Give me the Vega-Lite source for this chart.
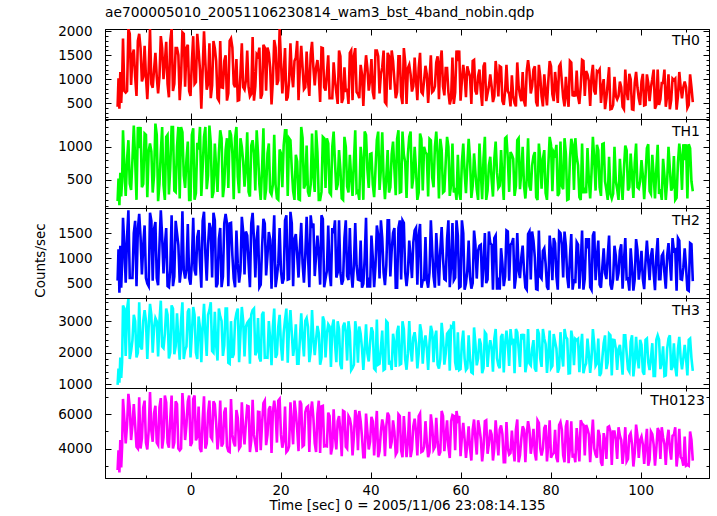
{
"$schema": "https://vega.github.io/schema/vega-lite/v6.json",
"padding": {"left": 33, "top": 5, "right": 5, "bottom": 2},
"background": "white",
"config": {
  "view": {"stroke": "black", "strokeWidth": 1},
  "font": "DejaVu Sans",
  "axis": {"grid": false, "zindex": 2, "domainColor": "black", "tickColor": "black", "labelColor": "black", "titleColor": "black", "labelFont": "DejaVu Sans", "labelFontSize": 13.5, "titleFont": "DejaVu Sans", "titleFontSize": 13.5, "titleFontWeight": "normal", "labelOverlap": false, "tickWidth": 1, "domainWidth": 1, "format": "d", "tickSize": -6},
  "title": {"font": "DejaVu Sans", "fontSize": 13.8, "fontWeight": "normal", "color": "black"}
},
"datasets": {"lc": [
{"t":-16.2,"TH0":420,"TH1":180,"TH2":560,"TH3":980,"TH0123":2750},
{"t":-16.0,"TH0":1020,"TH1":520,"TH2":1180,"TH3":1500,"TH0123":3900},
{"t":-15.8,"TH0":380,"TH1":120,"TH2":320,"TH3":1050,"TH0123":2600},
{"t":-15.6,"TH0":1150,"TH1":610,"TH2":1250,"TH3":1850,"TH0123":4500},
{"t":-15.4,"TH0":500,"TH1":250,"TH2":420,"TH3":1200,"TH0123":2900},
{"t":-15.2,"TH0":950,"TH1":480,"TH2":900,"TH3":1700,"TH0123":4100},
{"t":-15.0,"TH0":1850,"TH1":1250,"TH2":1800,"TH3":3500,"TH0123":6900},
{"t":-14.4,"TH0":720,"TH1":260,"TH2":520,"TH3":1900,"TH0123":4300},
{"t":-13.8,"TH0":2050,"TH1":1100,"TH2":1950,"TH3":3700,"TH0123":7200},
{"t":-13.2,"TH0":880,"TH1":350,"TH2":610,"TH3":2050,"TH0123":4500},
{"t":-12.6,"TH0":1620,"TH1":1320,"TH2":1500,"TH3":3200,"TH0123":6600},
{"t":-12.0,"TH0":650,"TH1":200,"TH2":450,"TH3":1850,"TH0123":4100},
{"t":-11.4,"TH0":1950,"TH1":980,"TH2":1880,"TH3":3600,"TH0123":7000},
{"t":-10.8,"TH0":950,"TH1":390,"TH2":680,"TH3":2100,"TH0123":4600},
{"t":-10.2,"TH0":1700,"TH1":1200,"TH2":1650,"TH3":3350,"TH0123":6800},
{"t":-9.6,"TH0":580,"TH1":240,"TH2":500,"TH3":1800,"TH0123":3950},
{"t":-9.0,"TH0":2050,"TH1":1050,"TH2":1900,"TH3":3550,"TH0123":7300},
{"t":-8.4,"TH0":820,"TH1":310,"TH2":560,"TH3":2000,"TH0123":4400},
{"t":-7.8,"TH0":1550,"TH1":1350,"TH2":1720,"TH3":3100,"TH0123":6500},
{"t":-7.2,"TH0":700,"TH1":180,"TH2":470,"TH3":1880,"TH0123":4200},
{"t":-6.6,"TH0":1900,"TH1":920,"TH2":1950,"TH3":3650,"TH0123":6950},
{"t":-6.0,"TH0":1000,"TH1":420,"TH2":700,"TH3":2150,"TH0123":4650},
{"t":-5.4,"TH0":1780,"TH1":1150,"TH2":1600,"TH3":3400,"TH0123":6700},
{"t":-4.8,"TH0":620,"TH1":280,"TH2":430,"TH3":1820,"TH0123":4050},
{"t":-4.2,"TH0":2050,"TH1":1300,"TH2":1850,"TH3":3500,"TH0123":7100},
{"t":-3.6,"TH0":900,"TH1":340,"TH2":640,"TH3":1950,"TH0123":4350},
{"t":-3.0,"TH0":1650,"TH1":1000,"TH2":1500,"TH3":3250,"TH0123":6600},
{"t":-2.4,"TH0":560,"TH1":220,"TH2":520,"TH3":1780,"TH0123":3900},
{"t":-1.8,"TH0":1980,"TH1":1220,"TH2":1930,"TH3":3600,"TH0123":7250},
{"t":-1.2,"TH0":840,"TH1":380,"TH2":600,"TH3":2080,"TH0123":4500},
{"t":-0.6,"TH0":1720,"TH1":1080,"TH2":1680,"TH3":3300,"TH0123":6750},
{"t":0.0,"TH0":650,"TH1":200,"TH2":480,"TH3":1850,"TH0123":4150},
{"t":0.6,"TH0":1900,"TH1":1280,"TH2":1800,"TH3":3450,"TH0123":6900},
{"t":1.2,"TH0":940,"TH1":300,"TH2":660,"TH3":2000,"TH0123":4480},
{"t":1.8,"TH0":1600,"TH1":960,"TH2":1560,"TH3":3150,"TH0123":6450},
{"t":2.4,"TH0":380,"TH1":260,"TH2":420,"TH3":1700,"TH0123":3800},
{"t":3.0,"TH0":2000,"TH1":1150,"TH2":1920,"TH3":3550,"TH0123":7050},
{"t":3.6,"TH0":780,"TH1":360,"TH2":560,"TH3":1900,"TH0123":4300},
{"t":4.2,"TH0":1750,"TH1":1320,"TH2":1700,"TH3":3350,"TH0123":6800},
{"t":4.8,"TH0":870,"TH1":230,"TH2":620,"TH3":2050,"TH0123":4550},
{"t":5.4,"TH0":1650,"TH1":1050,"TH2":1750,"TH3":3300,"TH0123":6600},
{"t":6.0,"TH0":600,"TH1":320,"TH2":500,"TH3":1750,"TH0123":3950},
{"t":6.6,"TH0":1800,"TH1":1250,"TH2":1600,"TH3":3150,"TH0123":6800},
{"t":7.2,"TH0":820,"TH1":240,"TH2":640,"TH3":1900,"TH0123":4300},
{"t":7.8,"TH0":1500,"TH1":950,"TH2":1880,"TH3":3400,"TH0123":6400},
{"t":8.4,"TH0":700,"TH1":380,"TH2":450,"TH3":1680,"TH0123":3850},
{"t":9.0,"TH0":1850,"TH1":1180,"TH2":1700,"TH3":3000,"TH0123":6900},
{"t":9.6,"TH0":900,"TH1":210,"TH2":600,"TH3":1950,"TH0123":4350},
{"t":10.2,"TH0":1420,"TH1":1300,"TH2":1550,"TH3":3250,"TH0123":6250},
{"t":10.8,"TH0":560,"TH1":300,"TH2":520,"TH3":1700,"TH0123":4000},
{"t":11.4,"TH0":1750,"TH1":1000,"TH2":1820,"TH3":3450,"TH0123":6700},
{"t":12.0,"TH0":780,"TH1":400,"TH2":680,"TH3":1880,"TH0123":4250},
{"t":12.6,"TH0":1600,"TH1":1220,"TH2":1450,"TH3":2950,"TH0123":6500},
{"t":13.2,"TH0":640,"TH1":250,"TH2":430,"TH3":1650,"TH0123":3800},
{"t":13.8,"TH0":1880,"TH1":1100,"TH2":1900,"TH3":3350,"TH0123":6850},
{"t":14.4,"TH0":850,"TH1":340,"TH2":620,"TH3":1920,"TH0123":4300},
{"t":15.0,"TH0":1480,"TH1":900,"TH2":1650,"TH3":3100,"TH0123":6150},
{"t":15.6,"TH0":590,"TH1":200,"TH2":480,"TH3":1720,"TH0123":3900},
{"t":16.2,"TH0":1720,"TH1":1280,"TH2":1780,"TH3":3300,"TH0123":6650},
{"t":16.8,"TH0":760,"TH1":360,"TH2":660,"TH3":1850,"TH0123":4200},
{"t":17.4,"TH0":1550,"TH1":1050,"TH2":1520,"TH3":3000,"TH0123":6300},
{"t":18.0,"TH0":470,"TH1":280,"TH2":400,"TH3":1600,"TH0123":3750},
{"t":18.6,"TH0":1820,"TH1":1180,"TH2":1850,"TH3":3400,"TH0123":6800},
{"t":19.2,"TH0":880,"TH1":220,"TH2":640,"TH3":1950,"TH0123":4350},
{"t":19.8,"TH0":2050,"TH1":960,"TH2":1600,"TH3":3200,"TH0123":6900},
{"t":20.4,"TH0":700,"TH1":390,"TH2":500,"TH3":1750,"TH0123":4050},
{"t":21.0,"TH0":1650,"TH1":1250,"TH2":1750,"TH3":3050,"TH0123":6450},
{"t":21.6,"TH0":620,"TH1":260,"TH2":580,"TH3":1680,"TH0123":3900},
{"t":22.2,"TH0":1750,"TH1":1100,"TH2":1920,"TH3":3350,"TH0123":6700},
{"t":22.8,"TH0":830,"TH1":330,"TH2":450,"TH3":1900,"TH0123":4250},
{"t":23.4,"TH0":1450,"TH1":880,"TH2":1480,"TH3":2900,"TH0123":6100},
{"t":24.0,"TH0":560,"TH1":210,"TH2":620,"TH3":1650,"TH0123":3850},
{"t":24.6,"TH0":1700,"TH1":1300,"TH2":1700,"TH3":3250,"TH0123":6600},
{"t":25.2,"TH0":790,"TH1":370,"TH2":520,"TH3":1880,"TH0123":4200},
{"t":25.8,"TH0":1580,"TH1":1020,"TH2":1820,"TH3":3100,"TH0123":6400},
{"t":26.4,"TH0":650,"TH1":250,"TH2":430,"TH3":1700,"TH0123":3800},
{"t":27.0,"TH0":1780,"TH1":1200,"TH2":1600,"TH3":3350,"TH0123":6750},
{"t":27.6,"TH0":870,"TH1":320,"TH2":650,"TH3":1920,"TH0123":4300},
{"t":28.2,"TH0":1400,"TH1":920,"TH2":1450,"TH3":2850,"TH0123":6050},
{"t":28.8,"TH0":520,"TH1":200,"TH2":480,"TH3":1620,"TH0123":3750},
{"t":29.4,"TH0":1650,"TH1":1150,"TH2":1780,"TH3":3150,"TH0123":6500},
{"t":30.0,"TH0":760,"TH1":380,"TH2":600,"TH3":1850,"TH0123":4150},
{"t":30.6,"TH0":1500,"TH1":1050,"TH2":1650,"TH3":2900,"TH0123":6100},
{"t":31.2,"TH0":600,"TH1":280,"TH2":450,"TH3":1550,"TH0123":3650},
{"t":31.8,"TH0":1350,"TH1":1230,"TH2":1500,"TH3":3050,"TH0123":6300},
{"t":32.4,"TH0":720,"TH1":350,"TH2":620,"TH3":1700,"TH0123":3950},
{"t":33.0,"TH0":1600,"TH1":950,"TH2":1750,"TH3":2750,"TH0123":5900},
{"t":33.6,"TH0":500,"TH1":220,"TH2":480,"TH3":1480,"TH0123":3550},
{"t":34.2,"TH0":1250,"TH1":1150,"TH2":1400,"TH3":2950,"TH0123":6150},
{"t":34.8,"TH0":800,"TH1":400,"TH2":650,"TH3":1750,"TH0123":4000},
{"t":35.4,"TH0":1550,"TH1":880,"TH2":1600,"TH3":2650,"TH0123":5750},
{"t":36.0,"TH0":560,"TH1":260,"TH2":420,"TH3":1520,"TH0123":3600},
{"t":36.6,"TH0":1650,"TH1":1250,"TH2":1700,"TH3":3000,"TH0123":6250},
{"t":37.2,"TH0":690,"TH1":330,"TH2":580,"TH3":1680,"TH0123":3900},
{"t":37.8,"TH0":1300,"TH1":1000,"TH2":1350,"TH3":2600,"TH0123":5600},
{"t":38.4,"TH0":440,"TH1":200,"TH2":500,"TH3":1450,"TH0123":3500},
{"t":39.0,"TH0":1500,"TH1":1180,"TH2":1800,"TH3":2900,"TH0123":6050},
{"t":39.6,"TH0":760,"TH1":380,"TH2":620,"TH3":1720,"TH0123":3950},
{"t":40.2,"TH0":1420,"TH1":900,"TH2":1450,"TH3":2800,"TH0123":5850},
{"t":40.8,"TH0":580,"TH1":240,"TH2":430,"TH3":1500,"TH0123":3600},
{"t":41.4,"TH0":1600,"TH1":1100,"TH2":1650,"TH3":3050,"TH0123":6200},
{"t":42.0,"TH0":700,"TH1":350,"TH2":600,"TH3":1650,"TH0123":3850},
{"t":42.6,"TH0":1250,"TH1":1220,"TH2":1400,"TH3":2700,"TH0123":5700},
{"t":43.2,"TH0":520,"TH1":210,"TH2":470,"TH3":1480,"TH0123":3550},
{"t":43.8,"TH0":1550,"TH1":950,"TH2":1750,"TH3":2950,"TH0123":6100},
{"t":44.4,"TH0":780,"TH1":390,"TH2":640,"TH3":1750,"TH0123":4000},
{"t":45.0,"TH0":1380,"TH1":1080,"TH2":1500,"TH3":2600,"TH0123":5650},
{"t":45.6,"TH0":600,"TH1":270,"TH2":420,"TH3":1550,"TH0123":3650},
{"t":46.2,"TH0":1480,"TH1":1250,"TH2":1600,"TH3":2850,"TH0123":6000},
{"t":46.8,"TH0":650,"TH1":320,"TH2":580,"TH3":1650,"TH0123":3900},
{"t":47.4,"TH0":1650,"TH1":880,"TH2":1700,"TH3":2750,"TH0123":5900},
{"t":48.0,"TH0":480,"TH1":230,"TH2":450,"TH3":1460,"TH0123":3500},
{"t":48.6,"TH0":1300,"TH1":1150,"TH2":1350,"TH3":3000,"TH0123":6150},
{"t":49.2,"TH0":740,"TH1":370,"TH2":610,"TH3":1720,"TH0123":3950},
{"t":49.8,"TH0":1450,"TH1":1000,"TH2":1550,"TH3":2650,"TH0123":5750},
{"t":50.4,"TH0":560,"TH1":200,"TH2":480,"TH3":1500,"TH0123":3600},
{"t":51.0,"TH0":1550,"TH1":1200,"TH2":1680,"TH3":2900,"TH0123":6050},
{"t":51.6,"TH0":690,"TH1":340,"TH2":560,"TH3":1650,"TH0123":3850},
{"t":52.2,"TH0":1280,"TH1":920,"TH2":1420,"TH3":2550,"TH0123":5600},
{"t":52.8,"TH0":500,"TH1":250,"TH2":420,"TH3":1450,"TH0123":3500},
{"t":53.4,"TH0":1500,"TH1":1100,"TH2":1750,"TH3":2850,"TH0123":6000},
{"t":54.0,"TH0":760,"TH1":390,"TH2":640,"TH3":1700,"TH0123":3950},
{"t":54.6,"TH0":1350,"TH1":1230,"TH2":1500,"TH3":2700,"TH0123":5800},
{"t":55.2,"TH0":580,"TH1":220,"TH2":460,"TH3":1500,"TH0123":3600},
{"t":55.8,"TH0":1600,"TH1":960,"TH2":1620,"TH3":2950,"TH0123":6200},
{"t":56.4,"TH0":660,"TH1":330,"TH2":590,"TH3":1620,"TH0123":3850},
{"t":57.0,"TH0":1230,"TH1":1150,"TH2":1380,"TH3":2600,"TH0123":5650},
{"t":57.6,"TH0":470,"TH1":260,"TH2":430,"TH3":1430,"TH0123":3450},
{"t":58.2,"TH0":1450,"TH1":1050,"TH2":1700,"TH3":2800,"TH0123":5950},
{"t":58.8,"TH0":720,"TH1":380,"TH2":620,"TH3":1700,"TH0123":3900},
{"t":59.4,"TH0":1380,"TH1":880,"TH2":1450,"TH3":2650,"TH0123":5700},
{"t":60.0,"TH0":550,"TH1":200,"TH2":440,"TH3":1480,"TH0123":3550},
{"t":60.6,"TH0":1300,"TH1":1050,"TH2":1500,"TH3":2700,"TH0123":5500},
{"t":61.2,"TH0":620,"TH1":300,"TH2":500,"TH3":1450,"TH0123":3450},
{"t":61.8,"TH0":1150,"TH1":1120,"TH2":1350,"TH3":2550,"TH0123":5300},
{"t":62.4,"TH0":480,"TH1":230,"TH2":400,"TH3":1380,"TH0123":3300},
{"t":63.0,"TH0":1400,"TH1":900,"TH2":1550,"TH3":2800,"TH0123":5700},
{"t":63.6,"TH0":680,"TH1":360,"TH2":600,"TH3":1600,"TH0123":3650},
{"t":64.2,"TH0":1200,"TH1":1050,"TH2":1250,"TH3":2450,"TH0123":5200},
{"t":64.8,"TH0":440,"TH1":210,"TH2":430,"TH3":1350,"TH0123":3250},
{"t":65.4,"TH0":1350,"TH1":1150,"TH2":1500,"TH3":2650,"TH0123":5600},
{"t":66.0,"TH0":700,"TH1":340,"TH2":580,"TH3":1550,"TH0123":3700},
{"t":66.6,"TH0":1100,"TH1":850,"TH2":1300,"TH3":2400,"TH0123":5100},
{"t":67.2,"TH0":520,"TH1":250,"TH2":380,"TH3":1400,"TH0123":3300},
{"t":67.8,"TH0":1380,"TH1":1080,"TH2":1450,"TH3":2750,"TH0123":5650},
{"t":68.4,"TH0":640,"TH1":380,"TH2":620,"TH3":1600,"TH0123":3600},
{"t":69.0,"TH0":1250,"TH1":950,"TH2":1200,"TH3":2500,"TH0123":5350},
{"t":69.6,"TH0":460,"TH1":200,"TH2":450,"TH3":1370,"TH0123":3200},
{"t":70.2,"TH0":1300,"TH1":1150,"TH2":1550,"TH3":2700,"TH0123":5550},
{"t":70.8,"TH0":690,"TH1":320,"TH2":560,"TH3":1580,"TH0123":3650},
{"t":71.4,"TH0":1080,"TH1":880,"TH2":1300,"TH3":2350,"TH0123":5050},
{"t":72.0,"TH0":500,"TH1":260,"TH2":400,"TH3":1350,"TH0123":3250},
{"t":72.6,"TH0":1350,"TH1":1100,"TH2":1500,"TH3":2650,"TH0123":5700},
{"t":73.2,"TH0":660,"TH1":360,"TH2":610,"TH3":1550,"TH0123":3600},
{"t":73.8,"TH0":1150,"TH1":1000,"TH2":1250,"TH3":2500,"TH0123":5300},
{"t":74.4,"TH0":430,"TH1":220,"TH2":420,"TH3":1380,"TH0123":3200},
{"t":75.0,"TH0":1400,"TH1":1130,"TH2":1480,"TH3":2750,"TH0123":5600},
{"t":75.6,"TH0":700,"TH1":340,"TH2":580,"TH3":1600,"TH0123":3700},
{"t":76.2,"TH0":1200,"TH1":860,"TH2":1350,"TH3":2400,"TH0123":5150},
{"t":76.8,"TH0":520,"TH1":240,"TH2":390,"TH3":1400,"TH0123":3300},
{"t":77.4,"TH0":1300,"TH1":1050,"TH2":1550,"TH3":2600,"TH0123":5500},
{"t":78.0,"TH0":640,"TH1":370,"TH2":600,"TH3":1550,"TH0123":3600},
{"t":78.6,"TH0":1100,"TH1":950,"TH2":1200,"TH3":2450,"TH0123":5200},
{"t":79.2,"TH0":450,"TH1":200,"TH2":440,"TH3":1360,"TH0123":3250},
{"t":79.8,"TH0":1380,"TH1":1150,"TH2":1450,"TH3":2700,"TH0123":5650},
{"t":80.4,"TH0":680,"TH1":330,"TH2":570,"TH3":1580,"TH0123":3650},
{"t":81.0,"TH0":1150,"TH1":880,"TH2":1300,"TH3":2350,"TH0123":5100},
{"t":81.6,"TH0":500,"TH1":260,"TH2":380,"TH3":1370,"TH0123":3200},
{"t":82.2,"TH0":1320,"TH1":1080,"TH2":1500,"TH3":2650,"TH0123":5550},
{"t":82.8,"TH0":620,"TH1":360,"TH2":620,"TH3":1560,"TH0123":3600},
{"t":83.4,"TH0":1050,"TH1":900,"TH2":1250,"TH3":2500,"TH0123":5300},
{"t":84.0,"TH0":420,"TH1":210,"TH2":410,"TH3":1340,"TH0123":3150},
{"t":84.6,"TH0":1350,"TH1":1120,"TH2":1480,"TH3":2700,"TH0123":5600},
{"t":85.2,"TH0":700,"TH1":350,"TH2":590,"TH3":1600,"TH0123":3700},
{"t":85.8,"TH0":1180,"TH1":850,"TH2":1320,"TH3":2400,"TH0123":5200},
{"t":86.4,"TH0":480,"TH1":240,"TH2":400,"TH3":1380,"TH0123":3250},
{"t":87.0,"TH0":1400,"TH1":1050,"TH2":1550,"TH3":2600,"TH0123":5450},
{"t":87.6,"TH0":650,"TH1":380,"TH2":600,"TH3":1550,"TH0123":3600},
{"t":88.2,"TH0":1100,"TH1":980,"TH2":1200,"TH3":2450,"TH0123":5150},
{"t":88.8,"TH0":440,"TH1":220,"TH2":430,"TH3":1360,"TH0123":3200},
{"t":89.4,"TH0":1300,"TH1":1150,"TH2":1450,"TH3":2750,"TH0123":5700},
{"t":90.0,"TH0":680,"TH1":340,"TH2":570,"TH3":1580,"TH0123":3650},
{"t":90.6,"TH0":1150,"TH1":950,"TH2":1350,"TH3":2450,"TH0123":5100},
{"t":91.2,"TH0":500,"TH1":260,"TH2":420,"TH3":1350,"TH0123":3200},
{"t":91.8,"TH0":1000,"TH1":1050,"TH2":1200,"TH3":2300,"TH0123":4900},
{"t":92.4,"TH0":600,"TH1":350,"TH2":590,"TH3":1480,"TH0123":3400},
{"t":93.0,"TH0":1250,"TH1":850,"TH2":1450,"TH3":2600,"TH0123":5300},
{"t":93.6,"TH0":380,"TH1":220,"TH2":380,"TH3":1280,"TH0123":3050},
{"t":94.2,"TH0":1050,"TH1":1000,"TH2":1250,"TH3":2400,"TH0123":5000},
{"t":94.8,"TH0":580,"TH1":360,"TH2":560,"TH3":1450,"TH0123":3400},
{"t":95.4,"TH0":950,"TH1":820,"TH2":1150,"TH3":2250,"TH0123":4750},
{"t":96.0,"TH0":420,"TH1":200,"TH2":400,"TH3":1300,"TH0123":3100},
{"t":96.6,"TH0":1200,"TH1":1020,"TH2":1400,"TH3":2550,"TH0123":5250},
{"t":97.2,"TH0":560,"TH1":340,"TH2":600,"TH3":1480,"TH0123":3400},
{"t":97.8,"TH0":1000,"TH1":900,"TH2":1200,"TH3":2350,"TH0123":4900},
{"t":98.4,"TH0":360,"TH1":230,"TH2":360,"TH3":1250,"TH0123":2950},
{"t":99.0,"TH0":1150,"TH1":1050,"TH2":1380,"TH3":2500,"TH0123":5400},
{"t":99.6,"TH0":600,"TH1":370,"TH2":580,"TH3":1500,"TH0123":3450},
{"t":100.2,"TH0":950,"TH1":800,"TH2":1150,"TH3":2250,"TH0123":4700},
{"t":100.8,"TH0":450,"TH1":210,"TH2":390,"TH3":1300,"TH0123":3100},
{"t":101.4,"TH0":1100,"TH1":980,"TH2":1350,"TH3":2450,"TH0123":5150},
{"t":102.0,"TH0":540,"TH1":330,"TH2":570,"TH3":1450,"TH0123":3350},
{"t":102.6,"TH0":1000,"TH1":880,"TH2":1200,"TH3":2300,"TH0123":4850},
{"t":103.2,"TH0":380,"TH1":220,"TH2":370,"TH3":1260,"TH0123":3000},
{"t":103.8,"TH0":1200,"TH1":1030,"TH2":1400,"TH3":2550,"TH0123":5200},
{"t":104.4,"TH0":580,"TH1":360,"TH2":590,"TH3":1480,"TH0123":3400},
{"t":105.0,"TH0":920,"TH1":820,"TH2":1100,"TH3":2200,"TH0123":4650},
{"t":105.6,"TH0":420,"TH1":200,"TH2":400,"TH3":1280,"TH0123":3050},
{"t":106.2,"TH0":1100,"TH1":1000,"TH2":1300,"TH3":2450,"TH0123":5100},
{"t":106.8,"TH0":560,"TH1":340,"TH2":560,"TH3":1450,"TH0123":3350},
{"t":107.4,"TH0":980,"TH1":860,"TH2":1150,"TH3":2300,"TH0123":4800},
{"t":108.0,"TH0":360,"TH1":230,"TH2":360,"TH3":1250,"TH0123":2950},
{"t":108.6,"TH0":1150,"TH1":1050,"TH2":1350,"TH3":2500,"TH0123":5150},
{"t":109.2,"TH0":600,"TH1":350,"TH2":580,"TH3":1470,"TH0123":3400},
{"t":109.8,"TH0":950,"TH1":800,"TH2":1200,"TH3":2250,"TH0123":4700},
{"t":110.4,"TH0":400,"TH1":220,"TH2":380,"TH3":1280,"TH0123":3050},
{"t":111.0,"TH0":1100,"TH1":980,"TH2":1300,"TH3":2450,"TH0123":5000},
{"t":111.6,"TH0":520,"TH1":330,"TH2":550,"TH3":1420,"TH0123":3300},
{"t":-14.7,"TH0":750,"TH1":690,"TH2":1260,"TH3":3400,"TH0123":5720},
{"t":-14.1,"TH0":750,"TH1":810,"TH2":1420,"TH3":3400,"TH0123":5380},
{"t":-13.5,"TH0":1950,"TH1":440,"TH2":610,"TH3":1800,"TH0123":6410},
{"t":-12.9,"TH0":1500,"TH1":810,"TH2":610,"TH3":2400,"TH0123":5380},
{"t":-12.3,"TH0":1050,"TH1":810,"TH2":1740,"TH3":3000,"TH0123":5380},
{"t":-11.7,"TH0":1800,"TH1":1300,"TH2":1580,"TH3":2000,"TH0123":4000},
{"t":-11.1,"TH0":1650,"TH1":1300,"TH2":1420,"TH3":2200,"TH0123":4000},
{"t":-10.5,"TH0":1050,"TH1":440,"TH2":1260,"TH3":3000,"TH0123":6410},
{"t":-9.9,"TH0":1050,"TH1":1180,"TH2":610,"TH3":3000,"TH0123":4340},
{"t":-9.3,"TH0":1200,"TH1":930,"TH2":450,"TH3":2800,"TH0123":5030},
{"t":-8.7,"TH0":900,"TH1":930,"TH2":1740,"TH3":3200,"TH0123":5030},
{"t":-8.1,"TH0":1200,"TH1":570,"TH2":1580,"TH3":2800,"TH0123":6070},
{"t":-7.5,"TH0":1050,"TH1":1180,"TH2":610,"TH3":3000,"TH0123":4340},
{"t":-6.9,"TH0":1050,"TH1":440,"TH2":1260,"TH3":3000,"TH0123":6410},
{"t":-6.3,"TH0":1650,"TH1":1300,"TH2":1420,"TH3":2200,"TH0123":4000},
{"t":-5.7,"TH0":1350,"TH1":200,"TH2":1260,"TH3":2600,"TH0123":7100},
{"t":-5.1,"TH0":900,"TH1":1180,"TH2":450,"TH3":3200,"TH0123":4340},
{"t":-4.5,"TH0":1800,"TH1":690,"TH2":770,"TH3":2000,"TH0123":5720},
{"t":-3.9,"TH0":750,"TH1":1300,"TH2":450,"TH3":3400,"TH0123":4000},
{"t":-3.3,"TH0":1650,"TH1":320,"TH2":1740,"TH3":2200,"TH0123":6760},
{"t":-2.7,"TH0":1500,"TH1":1300,"TH2":1260,"TH3":2400,"TH0123":4000},
{"t":-2.1,"TH0":1050,"TH1":1300,"TH2":770,"TH3":3000,"TH0123":4000},
{"t":-1.5,"TH0":1950,"TH1":570,"TH2":770,"TH3":1800,"TH0123":6070},
{"t":-0.9,"TH0":1650,"TH1":810,"TH2":770,"TH3":2200,"TH0123":5380},
{"t":-0.3,"TH0":750,"TH1":200,"TH2":610,"TH3":3400,"TH0123":7100},
{"t":0.3,"TH0":1350,"TH1":1180,"TH2":930,"TH3":2600,"TH0123":4340},
{"t":0.9,"TH0":900,"TH1":200,"TH2":770,"TH3":3200,"TH0123":7100},
{"t":1.5,"TH0":1950,"TH1":1060,"TH2":1420,"TH3":1800,"TH0123":4690},
{"t":2.1,"TH0":1200,"TH1":1300,"TH2":930,"TH3":2800,"TH0123":4000},
{"t":2.7,"TH0":1200,"TH1":690,"TH2":1740,"TH3":2800,"TH0123":5720},
{"t":3.3,"TH0":1350,"TH1":1300,"TH2":1090,"TH3":2600,"TH0123":4000},
{"t":3.9,"TH0":900,"TH1":570,"TH2":1260,"TH3":3200,"TH0123":6070},
{"t":4.5,"TH0":600,"TH1":1060,"TH2":1580,"TH3":3600,"TH0123":4690},
{"t":5.1,"TH0":1800,"TH1":320,"TH2":1900,"TH3":2000,"TH0123":6760},
{"t":5.7,"TH0":1380,"TH1":670,"TH2":430,"TH3":2230,"TH0123":5470},
{"t":6.3,"TH0":550,"TH1":900,"TH2":1380,"TH3":3400,"TH0123":4800},
{"t":6.9,"TH0":830,"TH1":1130,"TH2":430,"TH3":3010,"TH0123":4130},
{"t":7.5,"TH0":1380,"TH1":430,"TH2":1690,"TH3":2230,"TH0123":6130},
{"t":8.1,"TH0":550,"TH1":1130,"TH2":1690,"TH3":3400,"TH0123":4130},
{"t":8.7,"TH0":1800,"TH1":1250,"TH2":1690,"TH3":1650,"TH0123":3800},
{"t":9.3,"TH0":1660,"TH1":900,"TH2":1060,"TH3":1840,"TH0123":4800},
{"t":9.9,"TH0":830,"TH1":1130,"TH2":430,"TH3":3010,"TH0123":4130},
{"t":10.5,"TH0":550,"TH1":550,"TH2":900,"TH3":3400,"TH0123":5800},
{"t":11.1,"TH0":1110,"TH1":1130,"TH2":750,"TH3":2620,"TH0123":4130},
{"t":11.7,"TH0":830,"TH1":780,"TH2":1530,"TH3":3010,"TH0123":5130},
{"t":12.3,"TH0":970,"TH1":670,"TH2":1530,"TH3":2820,"TH0123":5470},
{"t":12.9,"TH0":830,"TH1":320,"TH2":900,"TH3":3010,"TH0123":6470},
{"t":13.5,"TH0":690,"TH1":1020,"TH2":1690,"TH3":3210,"TH0123":4470},
{"t":14.1,"TH0":550,"TH1":900,"TH2":1380,"TH3":3400,"TH0123":4800},
{"t":14.7,"TH0":1520,"TH1":1250,"TH2":1380,"TH3":2040,"TH0123":3800},
{"t":15.3,"TH0":1660,"TH1":430,"TH2":430,"TH3":1840,"TH0123":6130},
{"t":15.9,"TH0":690,"TH1":670,"TH2":1220,"TH3":3210,"TH0123":5470},
{"t":16.5,"TH0":1660,"TH1":200,"TH2":1690,"TH3":1840,"TH0123":6800},
{"t":17.1,"TH0":1660,"TH1":900,"TH2":1060,"TH3":1840,"TH0123":4800},
{"t":17.7,"TH0":1240,"TH1":320,"TH2":1380,"TH3":2430,"TH0123":6470},
{"t":18.3,"TH0":970,"TH1":430,"TH2":1220,"TH3":2820,"TH0123":6130},
{"t":18.9,"TH0":1660,"TH1":430,"TH2":430,"TH3":1840,"TH0123":6130},
{"t":19.5,"TH0":970,"TH1":200,"TH2":900,"TH3":2820,"TH0123":6800},
{"t":20.1,"TH0":1380,"TH1":900,"TH2":750,"TH3":2230,"TH0123":4800},
{"t":20.7,"TH0":1110,"TH1":1020,"TH2":590,"TH3":2620,"TH0123":4470},
{"t":21.3,"TH0":550,"TH1":1250,"TH2":1850,"TH3":3400,"TH0123":3800},
{"t":21.9,"TH0":970,"TH1":1130,"TH2":590,"TH3":2820,"TH0123":4130},
{"t":22.5,"TH0":1110,"TH1":670,"TH2":1690,"TH3":2620,"TH0123":5470},
{"t":23.1,"TH0":1380,"TH1":200,"TH2":1380,"TH3":2230,"TH0123":6800},
{"t":23.7,"TH0":1800,"TH1":780,"TH2":1060,"TH3":1650,"TH0123":5130},
{"t":24.3,"TH0":1240,"TH1":200,"TH2":1220,"TH3":2430,"TH0123":6800},
{"t":24.9,"TH0":1240,"TH1":1130,"TH2":900,"TH3":2430,"TH0123":4130},
{"t":25.5,"TH0":830,"TH1":430,"TH2":1060,"TH3":3010,"TH0123":6130},
{"t":26.1,"TH0":970,"TH1":320,"TH2":1060,"TH3":2820,"TH0123":6470},
{"t":26.7,"TH0":1520,"TH1":430,"TH2":1850,"TH3":2040,"TH0123":6130},
{"t":27.3,"TH0":1240,"TH1":550,"TH2":1690,"TH3":2430,"TH0123":5800},
{"t":27.9,"TH0":1240,"TH1":1250,"TH2":1060,"TH3":2430,"TH0123":3800},
{"t":28.5,"TH0":1110,"TH1":200,"TH2":1060,"TH3":2620,"TH0123":6800},
{"t":29.1,"TH0":1660,"TH1":320,"TH2":1850,"TH3":1840,"TH0123":6470},
{"t":29.7,"TH0":830,"TH1":1130,"TH2":430,"TH3":3010,"TH0123":4130},
{"t":30.3,"TH0":1110,"TH1":1130,"TH2":750,"TH3":2620,"TH0123":4130},
{"t":30.9,"TH0":600,"TH1":310,"TH2":720,"TH3":2830,"TH0123":5900},
{"t":31.5,"TH0":600,"TH1":1000,"TH2":1600,"TH3":2830,"TH0123":4100},
{"t":32.1,"TH0":980,"TH1":770,"TH2":1750,"TH3":2310,"TH0123":4700},
{"t":32.7,"TH0":480,"TH1":430,"TH2":720,"TH3":3000,"TH0123":5600},
{"t":33.3,"TH0":1480,"TH1":660,"TH2":720,"TH3":1620,"TH0123":5000},
{"t":33.9,"TH0":600,"TH1":200,"TH2":570,"TH3":2830,"TH0123":6200},
{"t":34.5,"TH0":730,"TH1":1000,"TH2":1750,"TH3":2660,"TH0123":4100},
{"t":35.1,"TH0":480,"TH1":310,"TH2":570,"TH3":3000,"TH0123":5900},
{"t":35.7,"TH0":1600,"TH1":540,"TH2":720,"TH3":1450,"TH0123":5300},
{"t":36.3,"TH0":1480,"TH1":770,"TH2":860,"TH3":1620,"TH0123":4700},
{"t":36.9,"TH0":730,"TH1":310,"TH2":860,"TH3":2660,"TH0123":5900},
{"t":37.5,"TH0":600,"TH1":200,"TH2":570,"TH3":2830,"TH0123":6200},
{"t":38.1,"TH0":1100,"TH1":770,"TH2":420,"TH3":2140,"TH0123":4700},
{"t":38.7,"TH0":1100,"TH1":1230,"TH2":1010,"TH3":2140,"TH0123":3500},
{"t":39.3,"TH0":1230,"TH1":660,"TH2":420,"TH3":1970,"TH0123":5000},
{"t":39.9,"TH0":980,"TH1":890,"TH2":420,"TH3":2310,"TH0123":4400},
{"t":40.5,"TH0":730,"TH1":430,"TH2":1010,"TH3":2660,"TH0123":5600},
{"t":41.1,"TH0":1600,"TH1":660,"TH2":860,"TH3":1450,"TH0123":5000},
{"t":41.7,"TH0":1480,"TH1":1230,"TH2":1450,"TH3":1620,"TH0123":3500},
{"t":42.3,"TH0":1100,"TH1":660,"TH2":1750,"TH3":2140,"TH0123":5000},
{"t":42.9,"TH0":1600,"TH1":540,"TH2":720,"TH3":1450,"TH0123":5300},
{"t":43.5,"TH0":480,"TH1":540,"TH2":860,"TH3":3000,"TH0123":5300},
{"t":44.1,"TH0":1480,"TH1":310,"TH2":1750,"TH3":1620,"TH0123":5900},
{"t":44.7,"TH0":1600,"TH1":890,"TH2":1160,"TH3":1450,"TH0123":4400},
{"t":45.3,"TH0":980,"TH1":660,"TH2":1600,"TH3":2310,"TH0123":5000},
{"t":45.9,"TH0":730,"TH1":1120,"TH2":420,"TH3":2660,"TH0123":3800},
{"t":46.5,"TH0":1480,"TH1":310,"TH2":1750,"TH3":1620,"TH0123":5900},
{"t":47.1,"TH0":480,"TH1":1230,"TH2":1750,"TH3":3000,"TH0123":3500},
{"t":47.7,"TH0":1350,"TH1":770,"TH2":720,"TH3":1790,"TH0123":4700},
{"t":48.3,"TH0":1230,"TH1":890,"TH2":720,"TH3":1970,"TH0123":4400},
{"t":48.9,"TH0":1100,"TH1":1230,"TH2":1010,"TH3":2140,"TH0123":3500},
{"t":49.5,"TH0":850,"TH1":540,"TH2":1310,"TH3":2480,"TH0123":5300},
{"t":50.1,"TH0":980,"TH1":660,"TH2":1600,"TH3":2310,"TH0123":5000},
{"t":50.7,"TH0":1230,"TH1":310,"TH2":1450,"TH3":1970,"TH0123":5900},
{"t":51.3,"TH0":730,"TH1":1120,"TH2":420,"TH3":2660,"TH0123":3800},
{"t":51.9,"TH0":980,"TH1":1000,"TH2":570,"TH3":2310,"TH0123":4100},
{"t":52.5,"TH0":1100,"TH1":890,"TH2":570,"TH3":2140,"TH0123":4400},
{"t":53.1,"TH0":980,"TH1":1120,"TH2":720,"TH3":2310,"TH0123":3800},
{"t":53.7,"TH0":730,"TH1":540,"TH2":1160,"TH3":2660,"TH0123":5300},
{"t":54.3,"TH0":850,"TH1":1000,"TH2":420,"TH3":2480,"TH0123":4100},
{"t":54.9,"TH0":1480,"TH1":890,"TH2":1010,"TH3":1620,"TH0123":4400},
{"t":55.5,"TH0":1350,"TH1":1120,"TH2":1160,"TH3":1790,"TH0123":3800},
{"t":56.1,"TH0":850,"TH1":310,"TH2":1010,"TH3":2480,"TH0123":5900},
{"t":56.7,"TH0":1230,"TH1":770,"TH2":570,"TH3":1970,"TH0123":4700},
{"t":57.3,"TH0":730,"TH1":1000,"TH2":1750,"TH3":2660,"TH0123":4100},
{"t":57.9,"TH0":600,"TH1":430,"TH2":860,"TH3":2830,"TH0123":5600},
{"t":58.5,"TH0":480,"TH1":310,"TH2":570,"TH3":3000,"TH0123":5900},
{"t":59.1,"TH0":1600,"TH1":200,"TH2":1750,"TH3":1450,"TH0123":6200},
{"t":59.7,"TH0":1600,"TH1":310,"TH2":420,"TH3":1450,"TH0123":5900},
{"t":60.3,"TH0":980,"TH1":770,"TH2":1750,"TH3":2310,"TH0123":4700},
{"t":60.9,"TH0":1060,"TH1":610,"TH2":380,"TH3":1820,"TH0123":4560},
{"t":61.5,"TH0":1270,"TH1":720,"TH2":760,"TH3":1510,"TH0123":4290},
{"t":62.1,"TH0":1060,"TH1":820,"TH2":640,"TH3":1820,"TH0123":4020},
{"t":62.7,"TH0":1380,"TH1":410,"TH2":510,"TH3":1350,"TH0123":5110},
{"t":63.3,"TH0":750,"TH1":610,"TH2":1270,"TH3":2280,"TH0123":4560},
{"t":63.9,"TH0":1060,"TH1":200,"TH2":1150,"TH3":1820,"TH0123":5650},
{"t":64.5,"TH0":750,"TH1":610,"TH2":1270,"TH3":2280,"TH0123":4560},
{"t":65.1,"TH0":1270,"TH1":820,"TH2":890,"TH3":1510,"TH0123":4020},
{"t":65.7,"TH0":540,"TH1":200,"TH2":510,"TH3":2590,"TH0123":5650},
{"t":66.3,"TH0":850,"TH1":720,"TH2":1530,"TH3":2130,"TH0123":4290},
{"t":66.9,"TH0":850,"TH1":510,"TH2":1270,"TH3":2130,"TH0123":4830},
{"t":67.5,"TH0":640,"TH1":820,"TH2":1400,"TH3":2440,"TH0123":4020},
{"t":68.1,"TH0":1060,"TH1":610,"TH2":380,"TH3":1820,"TH0123":4560},
{"t":68.7,"TH0":1270,"TH1":410,"TH2":380,"TH3":1510,"TH0123":5110},
{"t":69.3,"TH0":540,"TH1":510,"TH2":890,"TH3":2590,"TH0123":4830},
{"t":69.9,"TH0":750,"TH1":1130,"TH2":640,"TH3":2280,"TH0123":3200},
{"t":70.5,"TH0":750,"TH1":820,"TH2":1530,"TH3":2280,"TH0123":4020},
{"t":71.1,"TH0":430,"TH1":920,"TH2":1270,"TH3":2750,"TH0123":3740},
{"t":71.7,"TH0":640,"TH1":820,"TH2":1400,"TH3":2440,"TH0123":4020},
{"t":72.3,"TH0":430,"TH1":410,"TH2":640,"TH3":2750,"TH0123":5110},
{"t":72.9,"TH0":850,"TH1":1130,"TH2":760,"TH3":2130,"TH0123":3200},
{"t":73.5,"TH0":540,"TH1":610,"TH2":1020,"TH3":2590,"TH0123":4560},
{"t":74.1,"TH0":540,"TH1":410,"TH2":760,"TH3":2590,"TH0123":5110},
{"t":74.7,"TH0":1170,"TH1":510,"TH2":380,"TH3":1660,"TH0123":4830},
{"t":75.3,"TH0":1170,"TH1":410,"TH2":1530,"TH3":1660,"TH0123":5110},
{"t":75.9,"TH0":850,"TH1":720,"TH2":1530,"TH3":2130,"TH0123":4290},
{"t":76.5,"TH0":1270,"TH1":920,"TH2":1020,"TH3":1510,"TH0123":3740},
{"t":77.1,"TH0":430,"TH1":200,"TH2":380,"TH3":2750,"TH0123":5650},
{"t":77.7,"TH0":1060,"TH1":820,"TH2":640,"TH3":1820,"TH0123":4020},
{"t":78.3,"TH0":430,"TH1":820,"TH2":1150,"TH3":2750,"TH0123":4020},
{"t":78.9,"TH0":750,"TH1":300,"TH2":890,"TH3":2280,"TH0123":5380},
{"t":79.5,"TH0":960,"TH1":720,"TH2":380,"TH3":1970,"TH0123":4290},
{"t":80.1,"TH0":1270,"TH1":1030,"TH2":1150,"TH3":1510,"TH0123":3470},
{"t":80.7,"TH0":540,"TH1":920,"TH2":1400,"TH3":2590,"TH0123":3740},
{"t":81.3,"TH0":850,"TH1":1030,"TH2":640,"TH3":2130,"TH0123":3470},
{"t":81.9,"TH0":1270,"TH1":300,"TH2":1530,"TH3":1510,"TH0123":5380},
{"t":82.5,"TH0":960,"TH1":410,"TH2":1270,"TH3":1970,"TH0123":5110},
{"t":83.1,"TH0":430,"TH1":1130,"TH2":1530,"TH3":2750,"TH0123":3200},
{"t":83.7,"TH0":640,"TH1":200,"TH2":640,"TH3":2440,"TH0123":5650},
{"t":84.3,"TH0":1380,"TH1":820,"TH2":1020,"TH3":1350,"TH0123":4020},
{"t":84.9,"TH0":640,"TH1":1030,"TH2":380,"TH3":2440,"TH0123":3470},
{"t":85.5,"TH0":640,"TH1":1130,"TH2":510,"TH3":2440,"TH0123":3200},
{"t":86.1,"TH0":640,"TH1":720,"TH2":1270,"TH3":2440,"TH0123":4290},
{"t":86.7,"TH0":850,"TH1":200,"TH2":890,"TH3":2130,"TH0123":5650},
{"t":87.3,"TH0":1380,"TH1":300,"TH2":380,"TH3":1350,"TH0123":5380},
{"t":87.9,"TH0":1170,"TH1":300,"TH2":1400,"TH3":1660,"TH0123":5380},
{"t":88.5,"TH0":960,"TH1":510,"TH2":1400,"TH3":1970,"TH0123":4830},
{"t":89.1,"TH0":1060,"TH1":610,"TH2":380,"TH3":1820,"TH0123":4560},
{"t":89.7,"TH0":750,"TH1":820,"TH2":1530,"TH3":2280,"TH0123":4020},
{"t":90.3,"TH0":1170,"TH1":1030,"TH2":1020,"TH3":1660,"TH0123":3470},
{"t":90.9,"TH0":1200,"TH1":390,"TH2":480,"TH3":1260,"TH0123":4750},
{"t":91.5,"TH0":830,"TH1":1040,"TH2":820,"TH3":1830,"TH0123":3000},
{"t":92.1,"TH0":370,"TH1":480,"TH2":710,"TH3":2550,"TH0123":4500},
{"t":92.7,"TH0":920,"TH1":200,"TH2":1050,"TH3":1690,"TH0123":5250},
{"t":93.3,"TH0":370,"TH1":290,"TH2":480,"TH3":2550,"TH0123":5000},
{"t":93.9,"TH0":460,"TH1":290,"TH2":590,"TH3":2410,"TH0123":5000},
{"t":94.5,"TH0":650,"TH1":480,"TH2":1050,"TH3":2120,"TH0123":4500},
{"t":95.1,"TH0":650,"TH1":200,"TH2":710,"TH3":2120,"TH0123":5250},
{"t":95.7,"TH0":830,"TH1":480,"TH2":1280,"TH3":1830,"TH0123":4500},
{"t":96.3,"TH0":370,"TH1":670,"TH2":940,"TH3":2550,"TH0123":4000},
{"t":96.9,"TH0":740,"TH1":950,"TH2":590,"TH3":1980,"TH0123":3250},
{"t":97.5,"TH0":1110,"TH1":390,"TH2":360,"TH3":1400,"TH0123":4750},
{"t":98.1,"TH0":370,"TH1":570,"TH2":820,"TH3":2550,"TH0123":4250},
{"t":98.7,"TH0":920,"TH1":760,"TH2":590,"TH3":1690,"TH0123":3750},
{"t":99.3,"TH0":830,"TH1":390,"TH2":1170,"TH3":1830,"TH0123":4750},
{"t":99.9,"TH0":460,"TH1":480,"TH2":820,"TH3":2410,"TH0123":4500},
{"t":100.5,"TH0":1110,"TH1":570,"TH2":590,"TH3":1400,"TH0123":4250},
{"t":101.1,"TH0":460,"TH1":570,"TH2":940,"TH3":2410,"TH0123":4250},
{"t":101.7,"TH0":920,"TH1":1040,"TH2":940,"TH3":1690,"TH0123":3000},
{"t":102.3,"TH0":830,"TH1":290,"TH2":1050,"TH3":1830,"TH0123":5000},
{"t":102.9,"TH0":1200,"TH1":570,"TH2":710,"TH3":1260,"TH0123":4250},
{"t":103.5,"TH0":460,"TH1":670,"TH2":1050,"TH3":2410,"TH0123":4000},
{"t":104.1,"TH0":460,"TH1":290,"TH2":590,"TH3":2410,"TH0123":5000},
{"t":104.7,"TH0":920,"TH1":200,"TH2":1050,"TH3":1690,"TH0123":5250},
{"t":105.3,"TH0":1200,"TH1":570,"TH2":710,"TH3":1260,"TH0123":4250},
{"t":105.9,"TH0":650,"TH1":480,"TH2":1050,"TH3":2120,"TH0123":4500},
{"t":106.5,"TH0":370,"TH1":670,"TH2":940,"TH3":2550,"TH0123":4000},
{"t":107.1,"TH0":1010,"TH1":390,"TH2":1400,"TH3":1550,"TH0123":4750},
{"t":107.7,"TH0":1010,"TH1":200,"TH2":1170,"TH3":1550,"TH0123":5250},
{"t":108.3,"TH0":650,"TH1":760,"TH2":1400,"TH3":2120,"TH0123":3750},
{"t":108.9,"TH0":830,"TH1":850,"TH2":590,"TH3":1830,"TH0123":3500},
{"t":109.5,"TH0":830,"TH1":1040,"TH2":820,"TH3":1830,"TH0123":3000},
{"t":110.1,"TH0":830,"TH1":1040,"TH2":820,"TH3":1830,"TH0123":3000},
{"t":110.7,"TH0":460,"TH1":1040,"TH2":360,"TH3":2410,"TH0123":3000},
{"t":111.3,"TH0":830,"TH1":480,"TH2":1280,"TH3":1830,"TH0123":4500}
]},
"spacing": 0,
"bounds": "flush",
"vconcat": [
{
 "width": 604, "height": 90,
 "title": {"text": "ae700005010_20051106230814_wam3_bst_4band_nobin.qdp", "anchor": "start", "frame": "group", "offset": 5},
 "layer": [
  {"data": {"name": "lc"}, "mark": {"type": "line", "color": "#ff0000", "strokeWidth": 2.6, "clip": true},
   "encoding": {
    "x": {"field": "t", "type": "quantitative", "scale": {"domain": [-19, 115.2], "nice": false, "zero": false},
          "axis": {"orient": "bottom", "title": null, "labels": false, "values": [-10,0,10,20,30,40,50,60,70,80,90,100,110], "tickDash": {"condition": {"test": "datum.value % 20 !== 0", "value": [3, 10]}, "value": [10, 0]}}},
    "y": {"field": "TH0", "type": "quantitative", "scale": {"domain": [165, 2050], "nice": false, "zero": false},
          "axis": {"orient": "left", "title": null, "values": [200,300,400,500,600,700,800,900,1000,1100,1200,1300,1400,1500,1600,1700,1800,1900,2000], "labelExpr": "datum.value % 500 === 0 ? datum.label : ''", "labelPadding": 19, "tickDash": {"condition": {"test": "datum.value % 500 !== 0", "value": [3, 10]}, "value": [10, 0]}}}
   }},
  {"data": {"name": "lc"}, "mark": {"type": "line", "strokeOpacity": 0, "clip": true},
   "encoding": {
    "x": {"field": "t", "type": "quantitative", "axis": {"orient": "top", "title": null, "labels": false, "values": [-10,0,10,20,30,40,50,60,70,80,90,100,110], "tickDash": {"condition": {"test": "datum.value % 20 !== 0", "value": [3, 10]}, "value": [10, 0]}}},
    "y": {"field": "TH0", "type": "quantitative", "axis": {"orient": "right", "title": null, "labels": false, "values": [200,300,400,500,600,700,800,900,1000,1100,1200,1300,1400,1500,1600,1700,1800,1900,2000], "tickDash": {"condition": {"test": "datum.value % 500 !== 0", "value": [3, 10]}, "value": [10, 0]}}}
   }},
  {"data": {"values": [{"label": "TH0"}]}, "mark": {"type": "text", "align": "right", "baseline": "middle", "fontSize": 14, "font": "DejaVu Sans", "color": "black"},
   "encoding": {"x": {"datum": 113.2, "type": "quantitative", "axis": null}, "y": {"datum": 1790, "type": "quantitative", "axis": null}, "text": {"field": "label"}}}
 ],
 "resolve": {"axis": {"x": "independent", "y": "independent"}}
},
{
 "width": 604, "height": 89,
 "layer": [
  {"data": {"name": "lc"}, "mark": {"type": "line", "color": "#00ff00", "strokeWidth": 2.6, "clip": true},
   "encoding": {
    "x": {"field": "t", "type": "quantitative", "scale": {"domain": [-19, 115.2], "nice": false, "zero": false},
          "axis": {"orient": "bottom", "title": null, "labels": false, "values": [-10,0,10,20,30,40,50,60,70,80,90,100,110], "tickDash": {"condition": {"test": "datum.value % 20 !== 0", "value": [3, 10]}, "value": [10, 0]}}},
    "y": {"field": "TH1", "type": "quantitative", "scale": {"domain": [77, 1420], "nice": false, "zero": false},
          "axis": {"orient": "left", "title": null, "values": [100,200,300,400,500,600,700,800,900,1000,1100,1200,1300,1400], "labelExpr": "datum.value % 500 === 0 ? datum.label : ''", "labelPadding": 19, "tickDash": {"condition": {"test": "datum.value % 500 !== 0", "value": [3, 10]}, "value": [10, 0]}}}
   }},
  {"data": {"name": "lc"}, "mark": {"type": "line", "strokeOpacity": 0, "clip": true},
   "encoding": {
    "x": {"field": "t", "type": "quantitative", "axis": {"orient": "top", "title": null, "labels": false, "values": [-10,0,10,20,30,40,50,60,70,80,90,100,110], "tickDash": {"condition": {"test": "datum.value % 20 !== 0", "value": [3, 10]}, "value": [10, 0]}}},
    "y": {"field": "TH1", "type": "quantitative", "axis": {"orient": "right", "title": null, "labels": false, "values": [100,200,300,400,500,600,700,800,900,1000,1100,1200,1300,1400], "tickDash": {"condition": {"test": "datum.value % 500 !== 0", "value": [3, 10]}, "value": [10, 0]}}}
   }},
  {"data": {"values": [{"label": "TH1"}]}, "mark": {"type": "text", "align": "right", "baseline": "middle", "fontSize": 14, "font": "DejaVu Sans", "color": "black"},
   "encoding": {"x": {"datum": 113.2, "type": "quantitative", "axis": null}, "y": {"datum": 1226, "type": "quantitative", "axis": null}, "text": {"field": "label"}}}
 ],
 "resolve": {"axis": {"x": "independent", "y": "independent"}}
},
{
 "width": 604, "height": 90,
 "layer": [
  {"data": {"name": "lc"}, "mark": {"type": "line", "color": "#0000ff", "strokeWidth": 2.6, "clip": true},
   "encoding": {
    "x": {"field": "t", "type": "quantitative", "scale": {"domain": [-19, 115.2], "nice": false, "zero": false},
          "axis": {"orient": "bottom", "title": null, "labels": false, "values": [-10,0,10,20,30,40,50,60,70,80,90,100,110], "tickDash": {"condition": {"test": "datum.value % 20 !== 0", "value": [3, 10]}, "value": [10, 0]}}},
    "y": {"field": "TH2", "type": "quantitative", "scale": {"domain": [216, 1995], "nice": false, "zero": false},
          "axis": {"orient": "left", "title": "Counts/sec", "titlePadding": 10, "titleY": 52, "values": [300,400,500,600,700,800,900,1000,1100,1200,1300,1400,1500,1600,1700,1800,1900], "labelExpr": "datum.value % 500 === 0 ? datum.label : ''", "labelPadding": 19, "tickDash": {"condition": {"test": "datum.value % 500 !== 0", "value": [3, 10]}, "value": [10, 0]}}}
   }},
  {"data": {"name": "lc"}, "mark": {"type": "line", "strokeOpacity": 0, "clip": true},
   "encoding": {
    "x": {"field": "t", "type": "quantitative", "axis": {"orient": "top", "title": null, "labels": false, "values": [-10,0,10,20,30,40,50,60,70,80,90,100,110], "tickDash": {"condition": {"test": "datum.value % 20 !== 0", "value": [3, 10]}, "value": [10, 0]}}},
    "y": {"field": "TH2", "type": "quantitative", "axis": {"orient": "right", "title": null, "labels": false, "values": [300,400,500,600,700,800,900,1000,1100,1200,1300,1400,1500,1600,1700,1800,1900], "tickDash": {"condition": {"test": "datum.value % 500 !== 0", "value": [3, 10]}, "value": [10, 0]}}}
   }},
  {"data": {"values": [{"label": "TH2"}]}, "mark": {"type": "text", "align": "right", "baseline": "middle", "fontSize": 14, "font": "DejaVu Sans", "color": "black"},
   "encoding": {"x": {"datum": 113.2, "type": "quantitative", "axis": null}, "y": {"datum": 1740, "type": "quantitative", "axis": null}, "text": {"field": "label"}}}
 ],
 "resolve": {"axis": {"x": "independent", "y": "independent"}}
},
{
 "width": 604, "height": 90,
 "layer": [
  {"data": {"name": "lc"}, "mark": {"type": "line", "color": "#00ffff", "strokeWidth": 2.6, "clip": true},
   "encoding": {
    "x": {"field": "t", "type": "quantitative", "scale": {"domain": [-19, 115.2], "nice": false, "zero": false},
          "axis": {"orient": "bottom", "title": null, "labels": false, "values": [-10,0,10,20,30,40,50,60,70,80,90,100,110], "tickDash": {"condition": {"test": "datum.value % 20 !== 0", "value": [3, 10]}, "value": [10, 0]}}},
    "y": {"field": "TH3", "type": "quantitative", "scale": {"domain": [880, 3735], "nice": false, "zero": false},
          "axis": {"orient": "left", "title": null, "values": [1000,1200,1400,1600,1800,2000,2200,2400,2600,2800,3000,3200,3400,3600], "labelExpr": "datum.value % 1000 === 0 ? datum.label : ''", "labelPadding": 19, "tickDash": {"condition": {"test": "datum.value % 1000 !== 0", "value": [3, 10]}, "value": [10, 0]}}}
   }},
  {"data": {"name": "lc"}, "mark": {"type": "line", "strokeOpacity": 0, "clip": true},
   "encoding": {
    "x": {"field": "t", "type": "quantitative", "axis": {"orient": "top", "title": null, "labels": false, "values": [-10,0,10,20,30,40,50,60,70,80,90,100,110], "tickDash": {"condition": {"test": "datum.value % 20 !== 0", "value": [3, 10]}, "value": [10, 0]}}},
    "y": {"field": "TH3", "type": "quantitative", "axis": {"orient": "right", "title": null, "labels": false, "values": [1000,1200,1400,1600,1800,2000,2200,2400,2600,2800,3000,3200,3400,3600], "tickDash": {"condition": {"test": "datum.value % 1000 !== 0", "value": [3, 10]}, "value": [10, 0]}}}
   }},
  {"data": {"values": [{"label": "TH3"}]}, "mark": {"type": "text", "align": "right", "baseline": "middle", "fontSize": 14, "font": "DejaVu Sans", "color": "black"},
   "encoding": {"x": {"datum": 113.2, "type": "quantitative", "axis": null}, "y": {"datum": 3323, "type": "quantitative", "axis": null}, "text": {"field": "label"}}}
 ],
 "resolve": {"axis": {"x": "independent", "y": "independent"}}
},
{
 "width": 604, "height": 90,
 "layer": [
  {"data": {"name": "lc"}, "mark": {"type": "line", "color": "#ff00ff", "strokeWidth": 2.6, "clip": true},
   "encoding": {
    "x": {"field": "t", "type": "quantitative", "scale": {"domain": [-19, 115.2], "nice": false, "zero": false},
          "axis": {"orient": "bottom", "title": "Time [sec] 0 = 2005/11/06 23:08:14.135", "titlePadding": 2, "labels": true, "labelPadding": 11, "values": [-10,0,10,20,30,40,50,60,70,80,90,100,110], "labelExpr": "datum.value % 20 === 0 ? datum.label : ''", "tickDash": {"condition": {"test": "datum.value % 20 !== 0", "value": [3, 10]}, "value": [10, 0]}}},
    "y": {"field": "TH0123", "type": "quantitative", "scale": {"domain": [2280, 7540], "nice": false, "zero": false},
          "axis": {"orient": "left", "title": null, "values": [3000,4000,5000,6000,7000], "labelExpr": "datum.value % 2000 === 0 ? datum.label : ''", "labelPadding": 19, "tickDash": {"condition": {"test": "datum.value % 2000 !== 0", "value": [3, 10]}, "value": [10, 0]}}}
   }},
  {"data": {"name": "lc"}, "mark": {"type": "line", "strokeOpacity": 0, "clip": true},
   "encoding": {
    "x": {"field": "t", "type": "quantitative", "axis": {"orient": "top", "title": null, "labels": false, "values": [-10,0,10,20,30,40,50,60,70,80,90,100,110], "tickDash": {"condition": {"test": "datum.value % 20 !== 0", "value": [3, 10]}, "value": [10, 0]}}},
    "y": {"field": "TH0123", "type": "quantitative", "axis": {"orient": "right", "title": null, "labels": false, "values": [3000,4000,5000,6000,7000], "tickDash": {"condition": {"test": "datum.value % 2000 !== 0", "value": [3, 10]}, "value": [10, 0]}}}
   }},
  {"data": {"values": [{"label": "TH0123"}]}, "mark": {"type": "text", "align": "right", "baseline": "middle", "fontSize": 14, "font": "DejaVu Sans", "color": "black"},
   "encoding": {"x": {"datum": 114.3, "type": "quantitative", "axis": null}, "y": {"datum": 6780, "type": "quantitative", "axis": null}, "text": {"field": "label"}}}
 ],
 "resolve": {"axis": {"x": "independent", "y": "independent"}}
}
]
}
